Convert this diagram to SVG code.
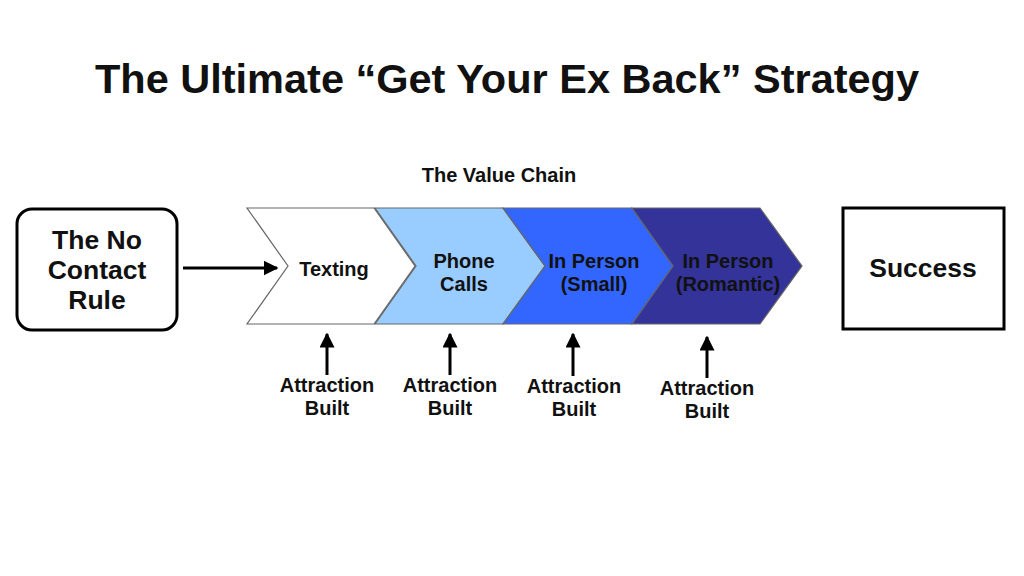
<svg xmlns="http://www.w3.org/2000/svg" width="1024" height="576" viewBox="0 0 1024 576">
<defs>
<style>
text{font-family:"Liberation Sans",Arial,sans-serif;font-weight:bold;fill:#111;text-anchor:middle}
.t{font-size:41.5px}
.h{font-size:20px}
.c{font-size:20px}
.b{font-size:26.5px}
.a{font-size:20px}
.chev{stroke:#666;stroke-width:1.2;stroke-linejoin:miter}
.line{stroke:#000;stroke-width:3;fill:none}
</style>
<marker id="ah" viewBox="0 0 10 10" refX="9" refY="5" markerWidth="5" markerHeight="5" markerUnits="strokeWidth" orient="auto">
<path d="M0,0 L10,5 L0,10 z" fill="#000"/>
</marker>
</defs>
<rect width="1024" height="576" fill="#fff"/>
<text class="t" x="507" y="93">The Ultimate “Get Your Ex Back” Strategy</text>
<text class="h" x="499" y="182">The Value Chain</text>

<g id="no-contact">
<rect x="17" y="209" width="160" height="121" rx="15" fill="#fff" stroke="#000" stroke-width="3"/>
<text class="b" x="97" y="249">The No</text>
<text class="b" x="97" y="279">Contact</text>
<text class="b" x="97" y="309">Rule</text>
</g>
<g id="texting">
<polygon class="chev" points="247,208 374,208 415,266 374,324 247,324 288,266" fill="#fff"/>
<text class="c" x="334" y="276">Texting</text>
</g>
<g id="phone-calls">
<polygon class="chev" points="375,208 503,208 545,266 503,324 375,324 416,266" fill="#99ccff"/>
<text class="c" x="464" y="268">Phone</text>
<text class="c" x="464" y="291">Calls</text>
</g>
<g id="in-person-small">
<polygon class="chev" points="503,208 632,208 673,266 632,324 503,324 545,266" fill="#3366ff"/>
<text class="c" x="594" y="268">In Person</text>
<text class="c" x="594" y="291">(Small)</text>
</g>
<g id="in-person-romantic">
<polygon class="chev" points="632,208 760,208 802,266 760,324 632,324 673,266" fill="#333399"/>
<text class="c" x="728" y="268">In Person</text>
<text class="c" x="728" y="291">(Romantic)</text>
</g>
<g id="success">
<rect x="843" y="208" width="161" height="121" fill="#fff" stroke="#000" stroke-width="3"/>
<text class="b" x="923" y="277">Success</text>
</g>
<g id="attraction-labels">
<text class="a" x="327" y="392">Attraction</text>
<text class="a" x="327" y="415">Built</text>
<text class="a" x="450" y="392">Attraction</text>
<text class="a" x="450" y="415">Built</text>
<text class="a" x="574" y="393">Attraction</text>
<text class="a" x="574" y="416">Built</text>
<text class="a" x="707" y="395">Attraction</text>
<text class="a" x="707" y="418">Built</text>
</g>
<g id="connectors">
<line class="line" x1="183" y1="268" x2="277" y2="268" marker-end="url(#ah)"/>
<line class="line" x1="327" y1="375" x2="327" y2="334" marker-end="url(#ah)"/>
<line class="line" x1="450" y1="375" x2="450" y2="334" marker-end="url(#ah)"/>
<line class="line" x1="573" y1="376" x2="573" y2="334" marker-end="url(#ah)"/>
<line class="line" x1="707" y1="378" x2="707" y2="337" marker-end="url(#ah)"/>
</g>
</svg>
